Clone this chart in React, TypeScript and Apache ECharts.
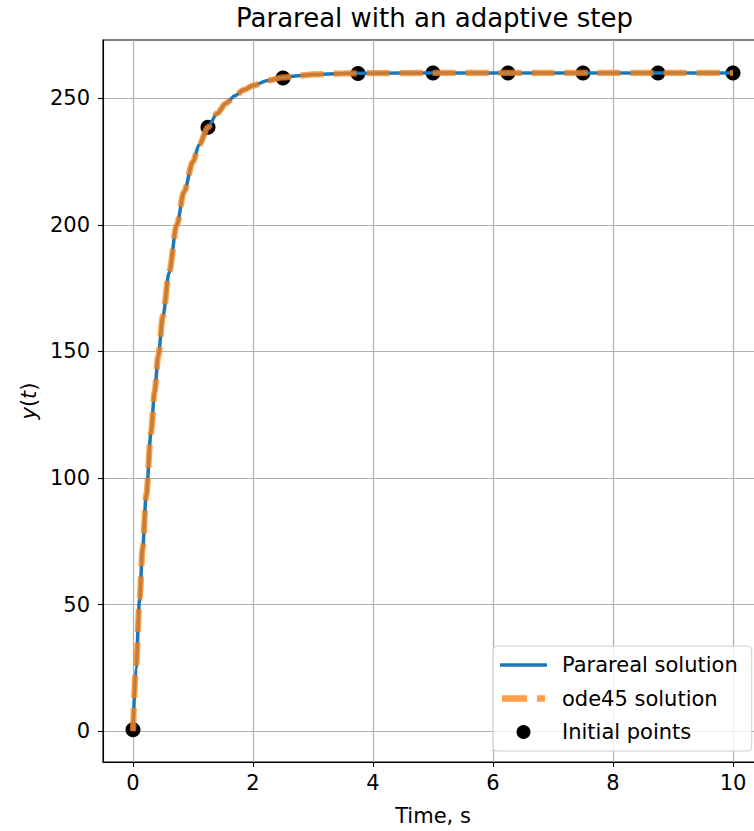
import React, { useEffect, useRef } from "react";
import * as echarts from "echarts";

const FONT = "DejaVu Sans";

// Solution curve
const timeValues = [0, 0.05, 0.11, 0.16, 0.22, 0.3, 0.36, 0.42, 0.5, 0.6, 0.73, 0.85, 1.0, 1.1, 1.25, 1.4, 1.55, 1.7, 1.85, 2.0, 2.25, 2.5, 2.75, 3.0, 3.5, 4.0, 5.0, 6.0, 7.0, 8.0, 9.0, 10.0];
const pararealValues = [0, 25, 52, 72, 93, 118, 134, 148, 164, 181, 200, 213, 225, 231.5, 238.5, 244, 248, 251, 253.3, 255, 257, 258.2, 258.9, 259.4, 259.8, 259.9, 260, 260, 260, 260, 260, 260];
const ode45Values = [0, 25, 52, 72, 93, 118, 134, 148, 164, 181, 200, 213, 225, 231.5, 238.5, 244, 248, 251, 253.3, 255, 257, 258.2, 258.9, 259.4, 259.8, 259.9, 260, 260, 260, 260, 260, 260];

// Initial points
const initTimes = [0, 1.25, 2.5, 3.75, 5, 6.25, 7.5, 8.75, 10];
const initValues = [0.5, 238.5, 258, 259.8, 260, 260, 260, 260, 260];

const xTicks = [0, 2, 4, 6, 8, 10];
const yTicks = [0, 50, 100, 150, 200, 250];

const SOLID_ICON = "path://M0,0 M47,14 M0,5.25 L47,5.25 L47,8.75 L0,8.75 Z";
const DASH_ICON = "path://M0,0 M47,14 M2,3.7 L27,3.7 L27,10.3 L2,10.3 Z M37,3.7 L45,3.7 L45,10.3 L37,10.3 Z";

export default function App() {
  const ref = useRef<HTMLDivElement>(null);
  useEffect(() => {
    if (!ref.current) return;
    const chart = echarts.init(ref.current, undefined, { renderer: "svg" });
    const axisCommon = {
      type: "value",
      nameLocation: "middle",
      nameTextStyle: { fontSize: 21, color: "#000", fontFamily: FONT },
      axisLine: { show: true, onZero: false, lineStyle: { color: "#000", width: 1.1 } },
      axisTick: { show: true, inside: false, length: 5, lineStyle: { color: "#000", width: 1.1 } },
      splitLine: { show: true, lineStyle: { color: "#b0b0b0", width: 1.2 } },
    };
    chart.setOption({
      animation: false,
      title: {
        text: "Parareal with an adaptive step",
        left: 236,
        top: 4,
        padding: 0,
        textStyle: { fontSize: 26, fontWeight: "normal", color: "#000", fontFamily: FONT, lineHeight: 28 },
      },
      grid: {
        left: 103,
        top: 40,
        width: 660,
        height: 722,
        show: true,
        borderColor: "#000",
        borderWidth: 1.1,
        containLabel: false,
        outerBoundsMode: "none",
      },
      legend: {
        orient: "vertical",
        left: 493,
        top: 646,
        data: [
          { name: "Parareal solution", icon: SOLID_ICON },
          { name: "ode45 solution", icon: DASH_ICON },
          { name: "Initial points", icon: "circle" },
        ],
        itemWidth: 47,
        itemHeight: 14,
        itemGap: 9.5,
        padding: [7, 14, 7, 7],
        backgroundColor: "rgba(255,255,255,0.8)",
        borderColor: "#cccccc",
        borderWidth: 1,
        borderRadius: 4,
        textStyle: { fontSize: 21, color: "#000", fontFamily: FONT, lineHeight: 24, padding: [0, 0, 0, 10] },
      },
      xAxis: {
        ...axisCommon,
        min: -0.5,
        max: 10.5,
        name: "Time, s",
        nameGap: 43,
        axisTick: { ...axisCommon.axisTick, customValues: xTicks },
        axisLabel: { fontSize: 21, color: "#000", fontFamily: FONT, margin: 10, customValues: xTicks },
      },
      yAxis: {
        ...axisCommon,
        min: -12.2,
        max: 273,
        name: "{i|y}({i|t})",
        nameGap: 61,
        nameTextStyle: {
          fontSize: 21,
          color: "#000",
          fontFamily: FONT,
          rich: { i: { fontStyle: "italic", fontSize: 21, color: "#000", fontFamily: FONT } },
        },
        axisTick: { ...axisCommon.axisTick, customValues: yTicks },
        axisLabel: { fontSize: 21, color: "#000", fontFamily: FONT, margin: 13, customValues: yTicks },
      },
      series: [
        {
          type: "scatter",
          name: "Initial points",
          data: initTimes.map((t, i) => [t, initValues[i]]),
          symbol: "circle",
          symbolSize: 15,
          color: "#000",
          itemStyle: { color: "#000", opacity: 1 },
          z: 2,
        },
        {
          type: "line",
          name: "Parareal solution",
          data: timeValues.map((t, i) => [t, pararealValues[i]]),
          symbol: "none",
          showSymbol: false,
          smooth: 0.3,
          smoothMonotone: "x",
          color: "#1f77b4",
          lineStyle: { color: "#1f77b4", width: 3.5 },
          z: 3,
        },
        {
          type: "line",
          name: "ode45 solution",
          data: timeValues.map((t, i) => [t, ode45Values[i]]),
          symbol: "none",
          showSymbol: false,
          smooth: 0.3,
          smoothMonotone: "x",
          color: "rgba(255,127,14,0.75)",
          lineStyle: { color: "rgba(255,127,14,0.75)", width: 6.2, type: [23, 10] },
          z: 4,
        },
      ],
    });
    return () => chart.dispose();
  }, []);
  return (
    <div
      ref={ref}
      style={{ position: "fixed", left: 0, top: 0, width: 754, height: 831, background: "#fff" }}
    />
  );
}
